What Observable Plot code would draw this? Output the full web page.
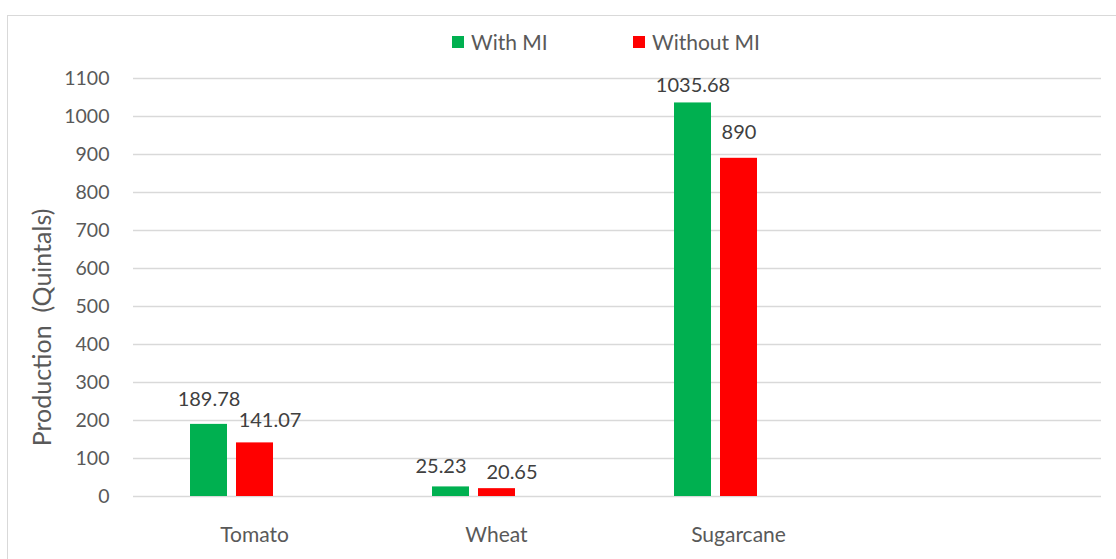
<!DOCTYPE html>
<html><head><meta charset="utf-8">
<script src="https://cdn.jsdelivr.net/npm/d3@7"></script>
<script src="https://cdn.jsdelivr.net/npm/@observablehq/plot@0.6"></script>
<style>
body{margin:0;background:#fff;}
#wrap{position:relative;width:1116px;height:559px;overflow:hidden;font-family:Lato,sans-serif;background:#fff;}
#frame{position:absolute;left:7px;top:15px;width:1200px;height:700px;border:1.5px solid #d9d9d9;box-sizing:border-box;}
#chart{position:absolute;left:0;top:0;}
.leg{position:absolute;top:29px;display:flex;align-items:center;font-size:21px;color:#595959;white-space:nowrap;}
.leg i{display:inline-block;width:12px;height:12px;margin-right:7px;}
</style></head>
<body>
<div id="wrap">
  <div id="frame"></div>
  <div id="chart"></div>
  <div id="legend"></div>
</div>
<script>
// ---- data ----
const categories = ["Tomato", "Wheat", "Sugarcane"];
const seriesNames = ["With MI", "Without MI"];
const withMI = [189.78, 25.23, 1035.68];
const withoutMI = [141.07, 20.65, 890];
const yTicks = [0, 100, 200, 300, 400, 500, 600, 700, 800, 900, 1000, 1100];
const colors = ["#00B050", "#FF0000"];
// label nudges (dx, dy) from bar top, as placed in the reference
const labelNudge = [[0, -25], [15, -22], [-10, -20], [15, -16], [0, -17], [0, -26]];

const fxDomain = [...categories, " "];
const rows = categories.flatMap((c, i) => [
  {cat: c, series: seriesNames[0], value: withMI[i]},
  {cat: c, series: seriesNames[1], value: withoutMI[i]}
]);
const gridRows = fxDomain.flatMap(f => yTicks.map(t => ({f, t})));

const labelMarks = rows.map((r, i) => Plot.text([r], {
  fx: "cat", x: "series", y: "value", text: d => String(d.value),
  dx: labelNudge[i][0], dy: labelNudge[i][1], lineAnchor: "middle",
  fill: "#404040", fontSize: 20
}));

const chart = Plot.plot({
  width: 1116, height: 559,
  marginLeft: 133, marginRight: 15, marginTop: 78, marginBottom: 63,
  style: {fontFamily: "Lato, sans-serif", fontSize: "19.5px", color: "#595959", background: "transparent"},
  fx: {domain: fxDomain, padding: 0, label: null, axis: null},
  x: {domain: [...seriesNames, "_"], paddingInner: 0.1957, paddingOuter: 1.228, axis: null},
  y: {domain: [0, 1100], axis: null},
  color: {domain: seriesNames, range: colors},
  marks: [
    Plot.ruleY(gridRows, {fx: "f", y: "t", stroke: "#d9d9d9", strokeWidth: 1.3}),
    Plot.barY(rows, {fx: "cat", x: "series", y: "value", fill: "series"}),
    ...labelMarks,
    Plot.axisY({ticks: yTicks, tickFormat: d => String(d), tickSize: 0, tickPadding: 24, label: null, fill: "#595959", fontSize: 19.5}),
    Plot.axisFx({anchor: "bottom", tickSize: 0, tickPadding: 31, label: null, fill: "#595959", fontSize: 21}),
    Plot.text(["Production  (Quintals)"], {fx: () => "Tomato", frameAnchor: "left", textAnchor: "middle", rotate: -90,
      dx: -91, dy: 40, fill: "#595959", fontSize: 25, text: d => d})
  ]
});
document.getElementById("chart").appendChild(chart);

const legend = document.getElementById("legend");
const legX = [452, 633];
seriesNames.forEach((s, i) => {
  const d = document.createElement("div");
  d.className = "leg";
  d.style.left = legX[i] + "px";
  d.innerHTML = `<i style="background:${colors[i]}"></i>${s}`;
  legend.appendChild(d);
});
</script>
</body></html>
